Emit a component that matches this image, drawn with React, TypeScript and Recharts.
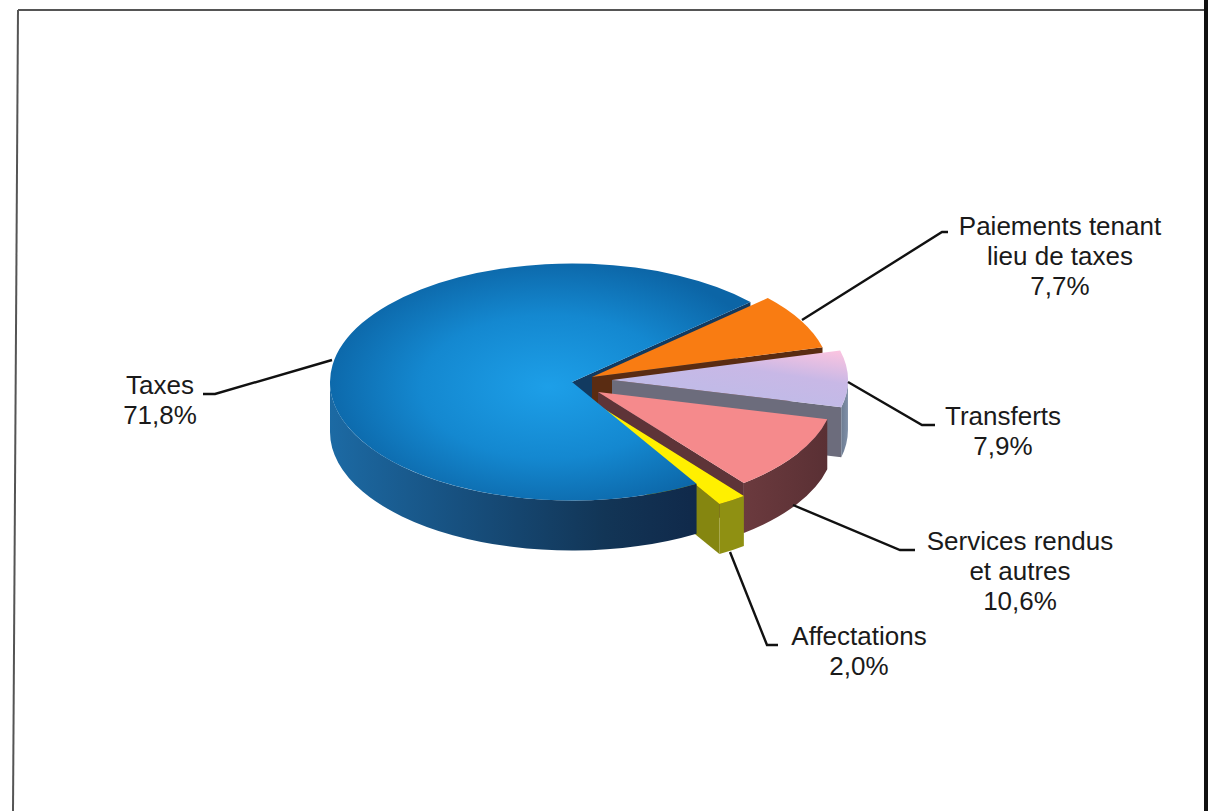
import { PieChart, Pie } from "recharts";

// ── Data ──────────────────────────────────────────────────────────────

// same order as the slices go round, starting from the top right
const SLICE_NAMES = ["Paiements tenant lieu de taxes", "Transferts", "Services rendus et autres", "Affectations", "Taxes"];
const SLICE_VALUES = [7.7, 7.9, 10.6, 2.0, 71.8];
const LABEL_LINES = [
  ["Paiements tenant", "lieu de taxes"],
  ["Transferts"],
  ["Services rendus", "et autres"],
  ["Affectations"],
  ["Taxes"],
];

const pieData = SLICE_NAMES.map((name, i) => ({ name, value: SLICE_VALUES[i] }));

// ── Look ──────────────────────────────────────────────────────────────

const WIDTH = 1211;
const HEIGHT = 811;
const CX = 590;
const CY = 382;
const RADIUS = 242;
const TILT = 0.49;
const DEPTH = 50;
const START_ANGLE = 42.5;

const SLICE_STYLES = [
  { dx: 2, dy: -5, scale: 0.985, top: "#f97c12", wall: "#5c3014", face: "#5a2c12" },
  { dx: 22, dy: -2, scale: 0.975, top: "url(#transfertsTop)", wall: "url(#transfertsWall)", face: "#6c6c7c" },
  { dx: 8, dy: 10, scale: 0.975, top: "#f58a8c", wall: "url(#servicesWall)", face: "#5e3438" },
  { dx: 8, dy: 23, scale: 0.975, top: "#fff000", wall: "#8f9012", face: "#858610" },
  { dx: -18, dy: 0, scale: 1, top: "url(#taxesTop)", wall: "url(#taxesWall)", face: "#123a60" },
];
const BACK_SLICE = "Taxes";

const LABEL_STYLES = [
  { x: 1060, y: 235, line: "802,320 942,232 948,232" },
  { x: 1003, y: 425, line: "848,382 922,425 935,425" },
  { x: 1020, y: 550, line: "793,505 900,550 915,550" },
  { x: 859, y: 645, line: "730,552 767,645 778,645" },
  { x: 160, y: 394, line: "332,360 215,394 203,394" },
];

// ── Helpers ───────────────────────────────────────────────────────────

const toRad = (deg: number) => (deg * Math.PI) / 180;

function sliceGeometry(props: any) {
  const { cx, cy, outerRadius, startAngle, endAngle } = props;
  const name = props.name ?? props.payload?.name;
  const s = SLICE_STYLES[SLICE_NAMES.indexOf(name)];
  const ox = cx + s.dx;
  const oy = cy + s.dy;
  const rx = outerRadius * s.scale;
  const ry = rx * TILT;
  const p = (deg: number): [number, number] => [ox + rx * Math.cos(toRad(deg)), oy - ry * Math.sin(toRad(deg))];
  return { name, s, ox, oy, rx, ry, p, startAngle, endAngle };
}

// ── Custom slice (ellipse top, outer wall and cut face) ───────────────

function renderSlice(props: any) {
  const { name, s, ox, oy, rx, ry, p, startAngle, endAngle } = sliceGeometry(props);

  const a = p(startAngle);
  const b = p(endAngle);
  const large = Math.abs(startAngle - endAngle) > 180 ? 1 : 0;
  const topPath = `M${ox},${oy} L${a[0]},${a[1]} A${rx},${ry} 0 ${large} 1 ${b[0]},${b[1]} Z`;

  // only the part of the rim in the front half of the ellipse can be seen
  const wallFrom = Math.min(startAngle, 0);
  const wallTo = Math.max(endAngle, -180);
  let wallPath = "";
  if (wallFrom > wallTo) {
    const w1 = p(wallFrom);
    const w2 = p(wallTo);
    wallPath =
      `M${w1[0]},${w1[1]} A${rx},${ry} 0 0 1 ${w2[0]},${w2[1]} ` +
      `L${w2[0]},${w2[1] + DEPTH} A${rx},${ry} 0 0 0 ${w1[0]},${w1[1] + DEPTH} Z`;
  }

  const facePath = `M${ox},${oy} L${b[0]},${b[1]} L${b[0]},${b[1] + DEPTH} L${ox},${oy + DEPTH} Z`;

  return (
    <g>
      {name !== BACK_SLICE && <path d={facePath} fill={s.face} />}
      {wallPath && <path d={wallPath} fill={s.wall} />}
      <path d={topPath} fill={s.top} />
    </g>
  );
}

// Taxes' cut face has to sit behind every other slice, so it gets its own pie underneath
function renderBackFace(props: any) {
  const { name, s, ox, oy, p, endAngle } = sliceGeometry(props);
  if (name !== BACK_SLICE) return <g />;
  const b = p(endAngle);
  return <path d={`M${ox},${oy} L${b[0]},${b[1]} L${b[0]},${b[1] + DEPTH} L${ox},${oy + DEPTH} Z`} fill={s.face} />;
}

// ── Custom label (leader line plus text) ──────────────────────────────

function renderLabel(props: any) {
  const idx = SLICE_NAMES.indexOf(props.name ?? props.payload?.name);
  const layout = LABEL_STYLES[idx];
  const lines = [...LABEL_LINES[idx], SLICE_VALUES[idx].toFixed(1).replace(".", ",") + "%"];
  return (
    <g>
      <polyline points={layout.line} fill="none" stroke="#111" strokeWidth={2.4} />
      <text
        x={layout.x}
        y={layout.y}
        textAnchor="middle"
        fontFamily="'Liberation Sans', Arial, sans-serif"
        fontSize={26}
        fill="#1a1a1a"
      >
        {lines.map((line, i) => (
          <tspan key={line} x={layout.x} dy={i === 0 ? 0 : 30}>
            {line}
          </tspan>
        ))}
      </text>
    </g>
  );
}

// ── Main component ────────────────────────────────────────────────────

export default function App() {
  const pieProps = {
    data: pieData,
    dataKey: "value",
    nameKey: "name",
    cx: CX,
    cy: CY,
    innerRadius: 0,
    outerRadius: RADIUS,
    startAngle: START_ANGLE,
    endAngle: START_ANGLE - 360,
    paddingAngle: 0,
    stroke: "none",
    isAnimationActive: false,
  };

  return (
    <div style={{ position: "absolute", left: 0, top: 0, width: WIDTH, height: HEIGHT, overflow: "hidden", background: "#fff" }}>
      {/* frame of the scanned page */}
      <svg width={WIDTH} height={HEIGHT} style={{ position: "absolute", left: 0, top: 0 }}>
        <line x1={18} y1={10} x2={1206} y2={10} stroke="#555" strokeWidth={2} />
        <line x1={18} y1={10} x2={13} y2={811} stroke="#555" strokeWidth={2} />
        <line x1={1206} y1={0} x2={1206} y2={811} stroke="#111" strokeWidth={4} />
      </svg>
      <div style={{ position: "absolute", left: 0, top: 0 }}>
        <PieChart width={WIDTH} height={HEIGHT} margin={{ top: 0, right: 0, bottom: 0, left: 0 }}>
          <defs>
            <radialGradient id="taxesTop" cx="52%" cy="52%" r="55%">
              <stop offset="0%" stopColor="#1d9fe8" />
              <stop offset="55%" stopColor="#1488d0" />
              <stop offset="100%" stopColor="#0c65a6" />
            </radialGradient>
            <linearGradient id="taxesWall" x1="0" y1="0" x2="1" y2="0">
              <stop offset="0%" stopColor="#1c6aa4" />
              <stop offset="35%" stopColor="#17507f" />
              <stop offset="75%" stopColor="#123556" />
              <stop offset="100%" stopColor="#10294a" />
            </linearGradient>
            <linearGradient id="transfertsTop" x1="0.3" y1="1" x2="0.95" y2="0">
              <stop offset="0%" stopColor="#bcbce8" />
              <stop offset="60%" stopColor="#c8b8e6" />
              <stop offset="100%" stopColor="#fbc4e0" />
            </linearGradient>
            <linearGradient id="transfertsWall" x1="0" y1="0" x2="1" y2="0">
              <stop offset="0%" stopColor="#6d7c92" />
              <stop offset="100%" stopColor="#8090a8" />
            </linearGradient>
            <linearGradient id="servicesWall" x1="0" y1="0" x2="1" y2="0">
              <stop offset="0%" stopColor="#6b3a3e" />
              <stop offset="100%" stopColor="#5a3034" />
            </linearGradient>
          </defs>
          <Pie {...pieProps} shape={renderBackFace} />
          <Pie {...pieProps} shape={renderSlice} label={renderLabel} labelLine={false} />
        </PieChart>
      </div>
    </div>
  );
}
